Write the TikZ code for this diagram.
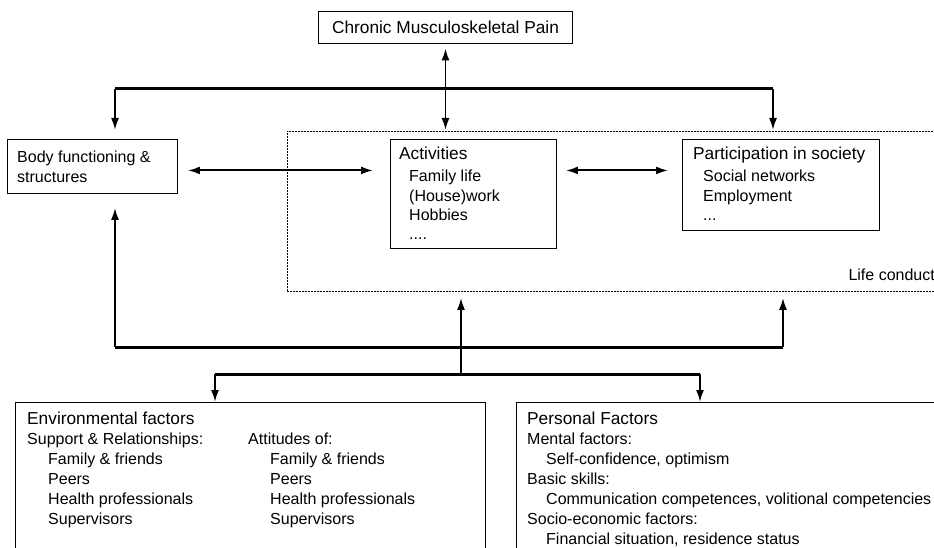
\documentclass[tikz,border=0pt]{standalone}
\usepackage{fontspec}
\setmainfont{Liberation Sans}
\usetikzlibrary{arrows.meta}

\begin{document}
\begin{tikzpicture}[x=1pt,y=-1pt,
    box/.style={draw, line width=0.9pt, inner sep=0pt},
    txt/.style={anchor=base west, inner sep=0pt, font=\fontsize{16}{20}\selectfont},
    head/.style={txt, font=\fontsize{17.3}{20}\selectfont},
    link/.style={line width=1.9pt, -{Latex[length=12pt,width=8pt]}},
    twoway/.style={line width=1.9pt, {Latex[length=12pt,width=8pt]}-{Latex[length=12pt,width=8pt]}},
    bar/.style={line width=3pt}]
    \useasboundingbox (0,0) rectangle (934,548);
    \clip (0,0) rectangle (934,548);
    % boxes
    \node[box, minimum width=254pt, minimum height=32pt, font=\fontsize{17.3}{20}\selectfont] (pain) at (445.5,27) {Chronic Musculoskeletal Pain};
    \node[box, dash pattern=on 2pt off 1pt, anchor=north west, minimum width=660pt, minimum height=160pt] (life) at (287,131) {};
    \node[box, anchor=north west, minimum width=170pt, minimum height=54pt] (body) at (7,139) {};
    \node[box, anchor=north west, minimum width=166pt, minimum height=109pt] (act) at (390,139) {};
    \node[box, anchor=north west, minimum width=197pt, minimum height=91pt] (part) at (682,139) {};
    \node[box, anchor=north west, minimum width=470pt, minimum height=200pt] (env) at (15,402) {};
    \node[box, anchor=north west, minimum width=440pt, minimum height=200pt] (pers) at (516,402) {};
    % texts
    \node[txt] (body1) at (17,163) {Body functioning \&};
    \node[txt] (body2) at (17,183) {structures};
    \node[head] (act0) at (399,160) {Activities};
    \foreach \t/\y [count=\i] in {Family life/182, (House)work/201, Hobbies/220}
        \node[txt] (act\i) at (409,\y) {\t};
    \node[txt] (act4) at (409,239) {....};
    \node[head] (part0) at (693,160) {Participation in society};
    \foreach \t/\y [count=\i] in {Social networks/182, Employment/201}
        \node[txt] (part\i) at (703,\y) {\t};
    \node[txt] (part3) at (703,221) {...};
    \node[txt, anchor=base east] (lifetxt) at (935,280) {Life conduct};
    \node[head] (env0) at (27,424) {Environmental factors};
    \node[txt] (sup0) at (27,444) {Support \& Relationships:};
    \node[txt] (att0) at (248,444) {Attitudes of:};
    \foreach \t [count=\i] in {Family \& friends, Peers, Health professionals, Supervisors} {
        \node[txt] (sup\i) at (48,444+20*\i) {\t};
        \node[txt] (att\i) at (270,444+20*\i) {\t};
    }
    \node[head] (pers0) at (527,424) {Personal Factors};
    \foreach \dx/\t [count=\i] in {0/Mental factors:, 19/{Self-confidence, optimism},
        0/Basic skills:, 19/{Communication competences, volitional competencies},
        0/Socio-economic factors:, 19/{Financial situation, residence status}}
        \node[txt] (pers\i) at (527+\dx,424+20*\i) {\t};
    % connectors
    \coordinate (tl) at (115,89);
    \coordinate (tr) at (773,89);
    \coordinate (bl) at (115,347);
    \coordinate (br) at (783,347);
    \coordinate (fork) at (461,374);
    \coordinate (fl) at (215,374);
    \coordinate (fr) at (700,374);
    \draw[twoway, shorten <=5pt, shorten >=1pt] (pain.south) -- (pain.south |- life.north);
    \draw[bar] (tl) -- (tr);
    \draw[link, shorten >=9pt] (tl) -- (tl |- body.north);
    \draw[link, shorten >=1pt] (tr) -- (tr |- life.north);
    \draw[twoway] ([xshift=10pt,yshift=-4pt]body.east) -- ([xshift=-17pt,yshift=23.5pt]act.west);
    \draw[twoway] ([xshift=9pt,yshift=23.5pt]act.east) -- ([xshift=-14pt,yshift=14.5pt]part.west);
    \draw[bar] (bl) -- (br);
    \draw[link, shorten >=14pt] (bl) -- (bl |- body.south);
    \draw[link, shorten >=6pt] (fork) -- (fork |- life.south);
    \draw[link, shorten >=6pt] (br) -- (br |- life.south);
    \draw[bar] (fl) -- (fr);
    \draw[link] (fl) -- (fl |- env.north);
    \draw[link] (fr) -- (fr |- pers.north);
\end{tikzpicture}
\end{document}
